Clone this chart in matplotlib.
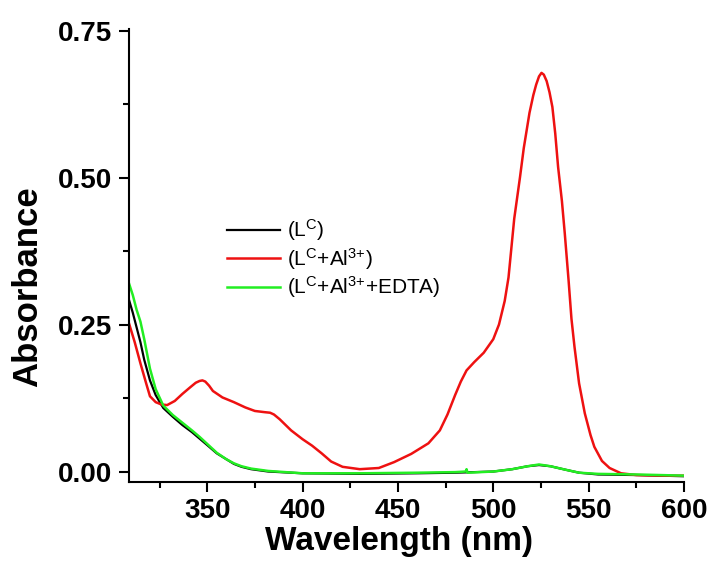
import matplotlib
matplotlib.use('Agg')
import matplotlib.pyplot as plt
import numpy as np

plt.rcParams['font.family'] = ['Liberation Sans', 'DejaVu Sans']
plt.rcParams['mathtext.fontset'] = 'custom'
plt.rcParams['mathtext.rm'] = 'Liberation Sans'
plt.rcParams['mathtext.it'] = 'Liberation Sans:italic'
plt.rcParams['mathtext.bf'] = 'Liberation Sans:bold'

# spectra
wl_l = [309, 311, 313, 315, 317, 320, 323, 327, 332, 337, 342, 346, 350, 355, 360, 364, 368,
        373, 382, 400, 430, 460, 480, 500, 510, 518, 524, 530, 538, 545, 555, 575, 600]
abs_l = [0.292, 0.27, 0.245, 0.22, 0.19, 0.155, 0.13, 0.108, 0.093, 0.079, 0.067, 0.056, 0.045,
         0.031, 0.021, 0.013, 0.008, 0.004, 0.0, -0.003, -0.004, -0.003, -0.002, 0.0, 0.004,
         0.009, 0.011, 0.009, 0.003, -0.002, -0.005, -0.006, -0.008]

wl_al = [309, 312, 315, 318, 320, 323, 326, 329, 333, 337, 341, 344, 346, 347.5, 349, 351, 353,
         358, 364, 370, 375, 380, 383, 385, 388, 394, 400, 405, 410, 415, 421, 430, 440, 448,
         457, 466, 472, 476, 480, 483, 486, 490, 495, 500, 503, 506, 508, 511, 514, 516, 519,
         521, 522.5, 524, 525.3, 526.5, 528, 529.5, 531, 532.5, 534, 536, 537.5, 539.5, 541,
         542.6, 545, 548, 551, 553, 557, 561, 567, 575, 590, 600]
abs_al = [0.252, 0.22, 0.184, 0.15, 0.128, 0.118, 0.114, 0.113, 0.12, 0.132, 0.143, 0.151,
          0.154, 0.155, 0.153, 0.146, 0.137, 0.126, 0.118, 0.109, 0.103, 0.101, 0.100, 0.097,
          0.089, 0.070, 0.055, 0.044, 0.031, 0.017, 0.008, 0.004, 0.006, 0.016, 0.030, 0.048,
          0.07, 0.097, 0.13, 0.153, 0.172, 0.186, 0.202, 0.225, 0.25, 0.29, 0.33, 0.43, 0.50,
          0.55, 0.61, 0.64, 0.658, 0.672, 0.678, 0.675, 0.664, 0.645, 0.62, 0.575, 0.518, 0.46,
          0.405, 0.325, 0.26, 0.212, 0.15, 0.099, 0.062, 0.042, 0.018, 0.006, -0.003, -0.006,
          -0.007, -0.007]

wl_edta = [309, 311, 313, 315, 317, 320, 323, 327, 332, 337, 342, 346, 350, 355, 360, 364, 368,
           373, 382, 400, 430, 460, 480, 485.5, 486, 486.5, 500, 510, 518, 524, 530, 538, 545,
           555, 575, 600]
abs_edta = [0.32, 0.30, 0.275, 0.255, 0.225, 0.175, 0.14, 0.112, 0.096, 0.083, 0.07, 0.059,
            0.047, 0.032, 0.021, 0.014, 0.009, 0.005, 0.001, -0.003, -0.003, -0.002, -0.001,
            0.0, 0.004, -0.002, 0.0, 0.004, 0.009, 0.012, 0.009, 0.003, -0.002, -0.004, -0.005,
            -0.007]

labels = [r'(L$^{\mathrm{C}}$)', r'(L$^{\mathrm{C}}$+Al$^{3{+}}$)',
          r'(L$^{\mathrm{C}}$+Al$^{3{+}}$+EDTA)']

fig = plt.figure(figsize=(7.15, 5.63), dpi=100)
ax = fig.add_axes([0.1804, 0.1444, 0.7762, 0.8041])

ax.plot(wl_l, abs_l, color='black', lw=1.6, label=labels[0])
ax.plot(wl_al, abs_al, color='#ee1111', lw=1.8, label=labels[1])
ax.plot(wl_edta, abs_edta, color='#22ee22', lw=1.8, label=labels[2])

ax.set_xlim(309, 600)
ax.set_ylim(-0.0173, 0.7526)
ax.set_xticks([350, 400, 450, 500, 550, 600])
ax.set_xticks(np.arange(325, 600, 50), minor=True)
ax.set_yticks([0.0, 0.25, 0.5, 0.75])
ax.set_yticks([0.125, 0.375, 0.625], minor=True)
ax.set_yticklabels(['0.00', '0.25', '0.50', '0.75'])

for s in ['top', 'right']:
    ax.spines[s].set_visible(False)
for s in ['left', 'bottom']:
    ax.spines[s].set_linewidth(1.5)

ax.tick_params(which='major', direction='out', length=7, width=1.5, pad=5, labelsize=20)
ax.tick_params(which='minor', direction='out', length=4, width=1.5)
for lab in ax.get_xticklabels() + ax.get_yticklabels():
    lab.set_fontweight('bold')

ax.set_xlabel('Wavelength (nm)', fontsize=24, fontweight='bold')
ax.xaxis.set_label_coords(0.486, -0.098)
ax.set_ylabel('Absorbance', fontsize=25, fontweight='bold')
ax.yaxis.set_label_coords(-0.153, 0.43)

ax.legend(loc='upper left', bbox_to_anchor=(0.177, 0.584), frameon=False, fontsize=15,
          handlelength=2.55, handletextpad=0.3, labelspacing=0.13, borderaxespad=0,
          borderpad=0)

fig.savefig('out.png', dpi=100)
